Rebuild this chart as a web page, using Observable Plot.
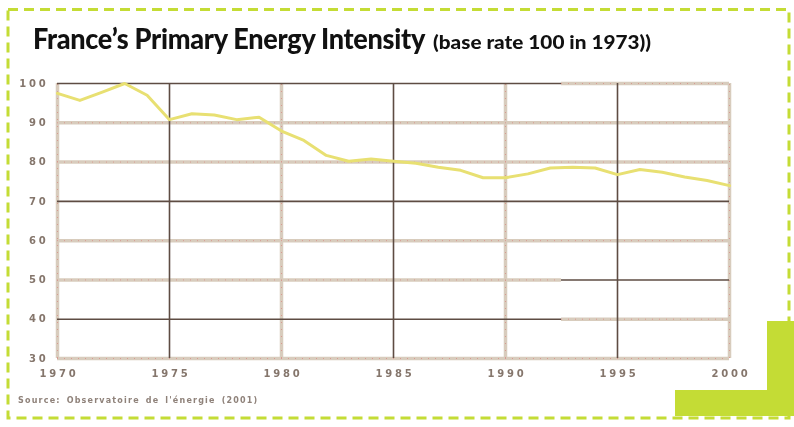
<!DOCTYPE html>
<html>
<head>
<meta charset="utf-8">
<script src="https://cdn.jsdelivr.net/npm/d3@7"></script>
<script src="https://cdn.jsdelivr.net/npm/@observablehq/plot@0.6"></script>
<style>
  html, body { margin: 0; padding: 0; background: #fff; }
  #wrap { position: relative; width: 794px; height: 427px; overflow: hidden; }
  #title {
    height: 62px; box-sizing: border-box; padding: 21px 0 0 33px; white-space: nowrap;
    font-family: Lato, "Open Sans", sans-serif; font-weight: 900; color: #111;
  }
  #title .main { font-size: 28px; display: inline-block; transform-origin: left bottom; letter-spacing: -0.3px; }
  #title .sub { font-size: 19px; display: inline-block; transform-origin: left bottom; }
  #source {
    position: absolute; left: 18px; top: 396px; font-family: "DejaVu Sans", sans-serif;
    font-size: 8px; font-weight: 700; color: #8f827a; letter-spacing: 1.2px; word-spacing: 2px;
    filter: blur(0.5px);
  }
  #deco { position: absolute; left: 0; top: 0; pointer-events: none; }
  #chart svg { display: block; }
</style>
</head>
<body>
<div id="wrap">
  <div id="title"><span class="main">France’s Primary Energy Intensity</span><span class="sub">(base rate 100 in 1973))</span></div>
  <div id="chart"></div>
  <div id="source">Source:  Observatoire de  l'énergie (2001)</div>
  <svg id="deco" width="794" height="427"></svg>
</div>
<script>
// Primary energy intensity index, France (1973 = 100)
const years = [1970, 1971, 1972, 1973, 1974, 1975, 1976, 1977, 1978, 1979,
               1980, 1981, 1982, 1983, 1984, 1985, 1986, 1987, 1988, 1989,
               1990, 1991, 1992, 1993, 1994, 1995, 1996, 1997, 1998, 1999, 2000];
const intensity = [97.5, 95.7, 97.8, 100, 97.0, 90.8, 92.3, 92.0, 90.8, 91.4,
                   87.9, 85.5, 81.7, 80.2, 80.8, 80.2, 79.7, 78.7, 77.9, 76.0,
                   76.0, 77.0, 78.5, 78.7, 78.5, 76.8, 78.1, 77.4, 76.2, 75.3, 74.0];

const xTicks = [1970, 1975, 1980, 1985, 1990, 1995, 2000];
const yTicks = [30, 40, 50, 60, 70, 80, 90, 100];

// Grid styling: light tan rules (dotted red overlay) and dark brown rules
const lightYFull = [30, 60, 80, 90];
const darkYFull = [70];
const lightX = [1970, 1980, 1990, 2000];
const darkX = [1975, 1985, 1995];
// Rules whose style changes part-way across the plot
const splitYear = 1992.5;
const lightYSegments = [
  {y: 100, x1: splitYear, x2: 2000},
  {y: 50, x1: 1970, x2: splitYear},
  {y: 40, x1: splitYear, x2: 2000}
];
const darkYSegments = [
  {y: 100, x1: 1970, x2: splitYear},
  {y: 50, x1: splitYear, x2: 2000},
  {y: 40, x1: 1970, x2: splitYear}
];
const lightYAll = lightYFull.map(y => ({y, x1: 1970, x2: 2000})).concat(lightYSegments);

const data = years.map((year, i) => ({year, value: intensity[i]}));

const tan = "#d8ccbd";
const dots = "#d89a92";
const dark = "#5e4c43";

const chart = Plot.plot({
  width: 794,
  height: 365,
  marginTop: 21,
  marginLeft: 57,
  marginRight: 65,
  marginBottom: 69,
  style: {fontFamily: "'DejaVu Sans', sans-serif", fontSize: "10px", fontWeight: 700, color: "#85766c", background: "#fff"},
  x: {domain: [1970, 2000], label: null},
  y: {domain: [30, 100], label: null},
  marks: [
    // light rules
    Plot.ruleX(lightX, {y1: 30, y2: 100, stroke: tan, strokeWidth: 3.5}),
    Plot.ruleY(lightYAll, {y: "y", x1: "x1", x2: "x2", stroke: tan, strokeWidth: 3.5}),
    Plot.ruleX(lightX, {y1: 30, y2: 100, stroke: dots, strokeWidth: 1, strokeDasharray: "1 6"}),
    Plot.ruleY(lightYAll, {y: "y", x1: "x1", x2: "x2", stroke: dots, strokeWidth: 1, strokeDasharray: "1 6"}),
    // dark rules
    Plot.ruleX(darkX, {y1: 30, y2: 100, stroke: dark, strokeWidth: 1.6}),
    Plot.ruleY(darkYFull, {x1: 1970, x2: 2000, stroke: dark, strokeWidth: 1.6}),
    Plot.ruleY(darkYSegments, {y: "y", x1: "x1", x2: "x2", stroke: dark, strokeWidth: 1.6}),
    // index line
    Plot.line(data, {x: "year", y: "value", stroke: "#e8e072", strokeWidth: 3, curve: "linear", strokeLinejoin: "round"}),
    Plot.axisX({ticks: xTicks, tickFormat: d => String(d), tickSize: 0, tickPadding: 11, fontSize: 10, dx: 1.5}),
    Plot.axisY({ticks: yTicks, tickSize: 0, tickPadding: 9, fontSize: 10})
  ]
});
// Wide, soft tick lettering
d3.select(chart).selectAll("[aria-label$='tick label']")
  .style("filter", "blur(0.45px)")
  .style("letter-spacing", "2.8px");
document.getElementById("chart").appendChild(chart);

// Fit the title pieces to their widths
function fit(sel, target) {
  const el = document.querySelector(sel);
  const w = el.getBoundingClientRect().width;
  el.style.transform = `scaleX(${target / w})`;
  el.style.marginRight = `${target - w}px`;
}
fit("#title .main", 392);
document.querySelector("#title .sub").style.marginLeft = "8px";
fit("#title .sub", 218);

// Dashed frame and corner accent
const deco = d3.select("#deco");
const green = "#c4dc35";
deco.append("rect").attr("x", 8).attr("y", 9.5).attr("width", 781).attr("height", 408.5)
  .attr("fill", "none").attr("stroke", green).attr("stroke-width", 3).attr("stroke-dasharray", "10 6");
deco.append("path").attr("d", "M767,321 H794 V416 H675 V390 H767 Z").attr("fill", green);
</script>
</body>
</html>
